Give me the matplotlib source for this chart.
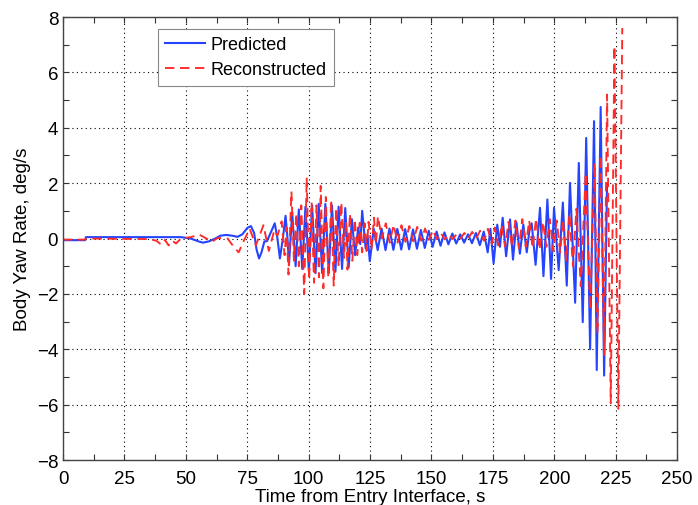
import numpy as np
import matplotlib
matplotlib.use("Agg")
import matplotlib.pyplot as plt
from matplotlib.ticker import MultipleLocator

plt.rcParams['font.family'] = ['Liberation Sans', 'DejaVu Sans']

## Predicted yaw rate: time (s) and value (deg/s) at the turning points
tPred = [0, 9.0, 9.3, 48, 52, 55, 57, 59.5, 62, 64, 66.5, 69, 71, 73, 75, 76.5, 77.8, 78.8,
         79.8, 80.8, 82, 83, 84.5, 86.2, 87.3, 88.3, 89.5, 90.6, 91.4,
         92.0, 93.3, 94.7, 96.0, 97.4, 98.7, 100.1, 101.4, 102.8, 104.1, 105.5, 106.8, 108.2,
         109.5, 110.9, 112.2, 113.6, 114.9, 116.3, 117.6, 118.9, 120.2, 121.0, 121.8, 123.2,
         124.0, 124.9,
         126.5, 128.1, 129.7, 131.3, 132.9, 134.5, 136.1, 137.7, 139.3, 140.9, 142.5, 144.1,
         145.7, 147.3, 148.9, 150.5, 152.1, 153.7, 155.3, 156.9, 158.5, 160.1, 161.7, 163.3,
         164.9, 166.5, 168.1, 169.7, 171.3, 172.9, 174.0, 175.3, 176.8, 177.9,
         179.0, 180.4, 182.0, 183.2, 184.6, 186.0, 187.4, 188.8, 189.9, 190.8, 192.4, 194.2,
         195.6, 197.2, 198.7, 199.9, 201.8, 203.5, 205.1, 206.4, 208.5, 210.0, 211.6, 213.0,
         214.6, 216.2, 217.3, 218.9, 220.3, 221.5]
yPred = [-0.06, -0.06, 0.05, 0.05, 0.0, -0.1, -0.15, -0.1, 0.0, 0.1, 0.13, 0.1, 0.06, 0.15,
         0.38, 0.45, 0.2, -0.4,
         -0.72, -0.5, -0.1, -0.1, 0.2, 0.55, 0.0, -0.72, 0.0, 0.82, 0.0,
         -0.95, 0.95, -1.0, 1.05, -1.1, 1.15, -1.2, 1.2, -1.25, 1.25, -1.25, 1.25, -1.25,
         1.2, -1.2, 1.15, -1.1, 1.1, -1.05, 0.7, -0.6, 0.4, -0.2, 1.0, -0.35,
         0.1, -0.82,
         0.35, -0.42, 0.36, -0.42, 0.36, -0.41, 0.35, -0.4, 0.34, -0.39, 0.33, -0.37,
         0.31, -0.34, 0.28, -0.3, 0.25, -0.26, 0.22, -0.21, 0.18, -0.18, 0.15, -0.15,
         0.15, -0.17, 0.2, -0.24, 0.25, -0.5, 0.35, -0.9, 0.5, -0.3,
         0.75, -0.64, 0.69, -0.76, 0.58, -0.55, 0.5, -0.5, 0.3, 0.55, -0.95, 1.11,
         -1.36, 1.41, -1.46, 1.11, -1.14, 1.3, -1.7, 2.01, -2.32, 2.73, -3.02, 3.63,
         -4.0, 4.24, -4.75, 4.75, -4.95, 2.0]

## Reconstructed yaw rate
tRec = [0, 9.0, 9.3, 35, 38, 40, 41.5, 43, 44.5, 46, 48, 52, 55.5, 58, 60.5, 63, 67, 69.5,
        71.5, 73.5, 76, 78.5, 81.6, 83.8, 86.0, 87.3, 89.0, 90.2, 91.0, 91.8,
        93.0, 94.0, 95.0, 96.0, 97.0, 98.2, 99.2, 100.2, 101.2, 102.2, 103.2, 104.2, 104.9,
        106.0, 107.0, 108.0, 109.2, 110.2, 111.2, 112.2, 113.3, 114.4, 115.2, 115.8, 116.8,
        117.8, 118.8, 119.8, 120.8, 121.8, 122.8, 123.6,
        124.4, 125.6, 126.6, 127.4, 128.2, 129.8, 131.4, 133.0, 134.6, 136.2, 137.8, 139.4,
        141.0, 142.6, 144.2, 145.8, 147.4, 149.0, 150.6, 152.2, 153.8, 155.4, 157.0, 158.6,
        160.2, 161.8, 163.4, 165.0, 166.6, 168.2, 169.8, 171.4, 173.0, 174.6, 175.8,
        177.2, 178.6, 180.0, 181.4, 182.8, 184.2, 185.6, 187.0, 188.4, 189.8, 191.2, 192.6,
        194.0, 195.4, 196.8, 198.2, 199.6, 201.0, 202.4, 203.6, 204.8, 206.2, 207.6, 209.0,
        210.8, 212.8, 214.6, 216.4, 217.6, 218.9, 220.3, 221.5, 223.0, 224.5, 226.1, 227.7]
yRec = [-0.04, -0.04, 0.0, -0.02, -0.08, -0.22, -0.05, -0.25, -0.08, -0.18, 0.0, 0.05, 0.14,
        0.02, -0.12, 0.02, 0.0, -0.3,
        -0.5, -0.1, 0.35, -0.25, 0.48, -0.45, 0.3, 0.1, 0.62, -0.6, 0.4, -1.3,
        1.7, -0.8, 0.9, -1.0, 1.2, -2.0, 2.2, -1.5, 1.3, -1.6, 1.2, -1.4, 1.9,
        -1.8, 1.5, -1.4, 1.4, -1.7, 1.1, -1.0, 1.3, -0.7, 0.6, -1.12, 0.9,
        -0.8, 0.7, -0.6, 0.57, -0.5, 0.55, -0.45,
        0.6, -0.4, 0.75, -0.2, 0.8, 0.0, 0.55, -0.15, 0.5, -0.15, 0.48, -0.12,
        0.45, -0.1, 0.42, -0.08, 0.36, -0.05, 0.3, -0.02, 0.2, -0.03, 0.15, -0.02,
        0.15, 0.0, 0.2, 0.0, 0.24, 0.0, 0.28, -0.08, 0.35, -0.2, 0.4,
        -0.25, 0.5, -0.3, 0.6, -0.3, 0.65, -0.35, 0.7, -0.3, 0.65, -0.35, 0.72,
        -0.4, 0.6, -0.3, 0.7, -0.45, 0.65, -0.5, 0.7, -0.8, 0.9, -1.0, 1.07,
        -1.72, 2.37, -2.56, 2.73, -3.4, 3.0, -4.2, 5.2, -5.95, 6.95, -6.15, 7.6]

fig = plt.figure(figsize=(6.98, 5.06), dpi=100)
ax = fig.add_axes([0.0903, 0.0889, 0.8797, 0.8755])

ax.plot(tPred, yPred, color='#2444ff', linewidth=1.5, label='Predicted')
ax.plot(tRec, yRec, color='#ff2a2a', linewidth=1.35, linestyle=(0, (5, 3)),
        label='Reconstructed')

ax.set_xlim(0, 250)
ax.set_ylim(-8, 8)
ax.xaxis.set_major_locator(MultipleLocator(25))
ax.xaxis.set_minor_locator(MultipleLocator(12.5))
ax.yaxis.set_major_locator(MultipleLocator(2))
ax.yaxis.set_minor_locator(MultipleLocator(1))
ax.tick_params(which='both', direction='in', top=True, right=True, length=4.5, width=0.8,
               labelsize=13.5, color='#333333')
ax.tick_params(axis='x', pad=7)
ax.grid(True, which='major', color='black', linestyle=(0, (1, 3)), linewidth=0.8)
for s in ax.spines.values():
    s.set_linewidth(1.0)
    s.set_color('#444444')

ax.set_xlabel('Time from Entry Interface, s', fontsize=13.5, labelpad=1)
ax.set_ylabel('Body Yaw Rate, deg/s', fontsize=13.5, labelpad=4)

leg = ax.legend(loc='upper left', bbox_to_anchor=(0.1547, 0.973), fontsize=13, fancybox=False,
                framealpha=1, edgecolor='#888888', handlelength=2.2, borderpad=0.4,
                labelspacing=0.45, handletextpad=0.3, borderaxespad=0)
leg.get_frame().set_linewidth(0.8)

fig.savefig('out.png', dpi=100)
